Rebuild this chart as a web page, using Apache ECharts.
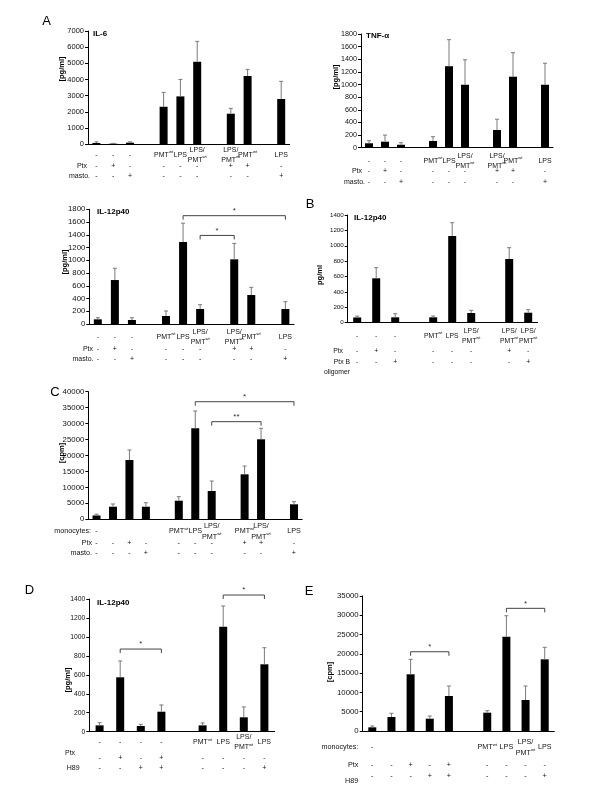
<!DOCTYPE html>
<html><head><meta charset="utf-8">
<script src="https://cdn.jsdelivr.net/npm/echarts@6/dist/echarts.min.js"></script>
<style>html,body{margin:0;padding:0;background:#fff}#c{width:600px;height:800px}</style>
</head><body><div id="c"></div>
<script>
// ---------- Panel A: IL-6 / TNF-alpha / IL-12p40 (same condition rows) ----------
const aLabels = ['-','-','-','','PMTwt','LPS','LPS/PMTwt','','LPS/PMTwt','PMTwt','','LPS'];
const aPtx    = ['-','+','-','','-','-','-','','+','+','','-'];
const aMasto  = ['-','-','+','','-','-','-','','-','-','','+'];

const aIl6Mean = [80, 40, 100, null, 2320, 2960, 5100, null, 1890, 4220, null, 2800];
const aIl6Sd   = [70, 20, 50, null, 890, 1050, 1260, null, 330, 410, null, 1090];

const aTnfMean = [70, 95, 47, null, 106, 1290, 997, null, 280, 1124, null, 997];
const aTnfSd   = [40, 105, 32, null, 68, 420, 395, null, 170, 380, null, 340];

const aIl12Mean = [73, 690, 63, null, 126, 1287, 235, null, 1015, 455, null, 235];
const aIl12Sd   = [25, 185, 35, null, 78, 295, 68, null, 250, 120, null, 115];
const aIl12Brackets = [[5, 11, 1700, '*'], [6, 8, 1390, '*']];

// ---------- Panel B: IL-12p40 ----------
const bLabels = ['-','-','-','','PMTwt','LPS','LPS/PMTwt','','LPS/PMTwt','LPS/PMTwt'];
const bPtx    = ['-','+','-','','-','-','-','','+','-'];
const bPtxB   = ['-','-','+','','-','-','-','','-','+'];
const bMean = [68, 577, 70, null, 70, 1127, 126, null, 828, 130];
const bSd   = [17, 138, 47, null, 17, 173, 35, null, 147, 39];

// ---------- Panel C: proliferation [cpm] ----------
const cMono  = ['-','','','','','PMTwt','LPS','LPS/PMTwt','','PMTwt','LPS/PMTwt','','LPS'];
const cPtx   = ['-','-','+','-','','-','-','-','','+','+','','-'];
const cMasto = ['-','-','-','+','','-','-','-','','-','-','','+'];
const cMean = [1200, 3950, 18590, 3950, null, 5830, 28530, 8870, null, 14100, 25080, null, 4700];
const cSd   = [400, 850, 3130, 1250, null, 1250, 5420, 3130, null, 2600, 3450, null, 820];
const cBrackets = [[6, 12, 36860, '*'], [7, 10, 30600, '**']];

// ---------- Panel D: IL-12p40 with H89 ----------
const dLabels = ['-','-','-','-','','PMTwt','LPS','LPS/PMTwt','LPS'];
const dPtx    = ['-','+','-','+','','-','-','-','-'];
const dH89    = ['-','-','+','+','','-','-','-','+'];
const dMean = [67, 574, 60, 211, null, 67, 1108, 152, 711];
const dSd   = [28, 172, 18, 71, null, 25, 218, 109, 175];
const dBrackets = [[1, 3, 872, '*'], [6, 8, 1442, '*']];

// ---------- Panel E: proliferation with H89 ----------
const eMono = ['-','','','','','','PMTwt','LPS','LPS/PMTwt','LPS'];
const ePtx  = ['-','-','+','-','+','','-','-','-','-'];
const eH89  = ['-','-','-','+','+','','-','-','-','+'];
const eMean = [950, 3630, 14700, 3190, 9070, null, 4750, 24440, 8030, 18580];
const eSd   = [350, 960, 3880, 700, 2590, null, 510, 5440, 3630, 3110];
const eBrackets = [[2, 4, 20550, '*'], [7, 9, 31800, '*']];

const FONT = '"Liberation Sans", Arial, Helvetica, sans-serif';
const TXT = '#111';

const panels = [
  { grid:{left:88, top:31, width:201.6, height:113.3}, rows:[aLabels,aPtx,aMasto], off:[10.7,21.7,31.7],
    mean:aIl6Mean, sd:aIl6Sd, max:7000, interval:1000, fs:7, tfs:7.5, brackets:[],
    title:['IL-6',93,34], yname:['[pg/ml]',62,69], letter:['A',46.5,21.5],
    heads:[['Ptx',87,166,'right'],['masto.',90,176,'right']] },
  { grid:{left:361, top:34, width:192, height:113.7}, rows:[aLabels,aPtx,aMasto], off:[13.3,23.3,34.3],
    mean:aTnfMean, sd:aTnfSd, max:1800, interval:200, fs:7, tfs:7.2, brackets:[],
    title:['TNF-α',366,35.5], yname:['[pg/ml]',335.5,77],
    heads:[['Ptx',362,171,'right'],['masto.',365,182,'right']] },
  { grid:{left:89.3, top:209.3, width:204.6, height:114.7}, rows:[aLabels,aPtx,aMasto], off:[12.7,25.3,35.3],
    mean:aIl12Mean, sd:aIl12Sd, max:1800, interval:200, fs:7, tfs:7.8, brackets:aIl12Brackets,
    title:['IL-12p40',97,211.5], yname:['[pg/ml]',64.5,262],
    heads:[['Ptx',93,349.3,'right'],['masto.',93.5,359.3,'right']] },
  { grid:{left:347.7, top:215, width:190, height:107.7}, rows:[bLabels,bPtx,bPtxB], off:[13.3,28,39],
    mean:bMean, sd:bSd, max:1400, interval:200, fs:6.8, tfs:6.2, brackets:[],
    title:['IL-12p40',354,217.5], yname:['pg/ml',320,275], letter:['B',310,204.5],
    heads:[['Ptx',343,350.7,'right'],['Ptx B',350,361.7,'right'],['oligomer',350,371.7,'right']] },
  { grid:{left:88.3, top:391.7, width:213.9, height:127.6}, rows:[cMono,cPtx,cMasto], off:[12.2,24,34],
    mean:cMean, sd:cSd, max:40000, interval:5000, fs:7.2, tfs:7.8, brackets:cBrackets,
    yname:['[cpm]',62,453], letter:['C',55,392],
    heads:[['monocytes:',91,531.5,'right'],['Ptx',92,543.3,'right'],['masto.',92,553.3,'right']] },
  { grid:{left:89.3, top:599, width:185.4, height:132.7}, rows:[dLabels,dPtx,dH89], off:[10.8,26.6,36.6],
    mean:dMean, sd:dSd, max:1400, interval:200, fs:7, tfs:6.8, brackets:dBrackets,
    title:['IL-12p40',97,603], yname:['[pg/ml]',67.5,680], letter:['D',29.5,590],
    heads:[['Ptx',65,752.7,'left'],['H89',66.7,767.7,'left']] },
  { grid:{left:362.7, top:596, width:191.6, height:135}, rows:[eMono,ePtx,eH89], off:[16.5,34,45],
    mean:eMean, sd:eSd, max:35000, interval:5000, fs:7.2, tfs:7.8, brackets:eBrackets,
    yname:['[cpm]',330,672], letter:['E',309,591.5],
    heads:[['monocytes:',358.3,746.7,'right'],['Ptx',358.3,765,'right'],['H89',358.3,781,'right']] }
];

function fmtLabel(v) {
  if (!v) return '';
  if (v === 'PMTwt') return 'PMT{s|wt}';
  if (v === 'LPS/PMTwt') return 'LPS/\nPMT{s|wt}';
  return v;
}

function errRender(params, api) {
  const x = api.value(0);
  const lo = api.coord([x, api.value(1)]);
  const hi = api.coord([x, api.value(2)]);
  const c = 2;
  const st = {stroke:'#7a7a7a', lineWidth:1};
  return {type:'group', children:[
    {type:'line', shape:{x1:lo[0], y1:lo[1], x2:hi[0], y2:hi[1]}, style:st},
    {type:'line', shape:{x1:hi[0]-c, y1:hi[1], x2:hi[0]+c, y2:hi[1]}, style:st}
  ]};
}

function makeBracketRender(list, fs) {
  return function (params, api) {
    const a = api.coord([api.value(0), api.value(2)]);
    const b = api.coord([api.value(1), api.value(2)]);
    const t = 4;
    return {type:'group', children:[
      {type:'polyline', shape:{points:[[a[0], a[1]+t], [a[0], a[1]], [b[0], b[1]], [b[0], b[1]+t]]},
        style:{stroke:'#444', fill:null, lineWidth:1}},
      {type:'text', x:(a[0]+b[0])/2, y:a[1]-5,
        style:{text:list[params.dataIndex][3], align:'center', verticalAlign:'middle',
               fontSize:fs, fontFamily:FONT, fill:'#333'}}
    ]};
  };
}

const option = {animation:false, backgroundColor:'#fff', grid:[], xAxis:[], yAxis:[], series:[], graphic:[]};

panels.forEach((p, gi) => {
  option.grid.push(Object.assign({containLabel:false}, p.grid));
  const mainX = option.xAxis.length;
  option.xAxis.push({
    type:'category', gridIndex:gi, position:'bottom', offset:0,
    data:p.rows[0].map((_, i) => 'slot' + i),
    axisLine:{show:true, onZero:false, lineStyle:{color:'#000', width:1}},
    axisTick:{show:false}, axisLabel:{show:false}, splitLine:{show:false}
  });
  p.rows.forEach((row, ri) => {
    option.xAxis.push({
      type:'category', gridIndex:gi, position:'bottom', offset:p.off[ri], data:row,
      axisLine:{show:false, onZero:false}, axisTick:{show:false}, splitLine:{show:false},
      axisLabel:{
        interval:0, margin:0, verticalAlign:'middle', fontSize:p.fs, lineHeight:p.fs + 3,
        color:TXT, fontFamily:FONT, formatter:fmtLabel,
        rich:{s:{fontSize:p.fs*0.6, fontFamily:FONT, color:TXT, verticalAlign:'top', lineHeight:p.fs*0.9}}
      }
    });
  });
  option.yAxis.push({
    type:'value', gridIndex:gi, min:0, max:p.max, interval:p.interval,
    axisLine:{show:true, lineStyle:{color:'#000', width:1}},
    axisTick:{show:true, length:3, lineStyle:{color:'#000'}},
    splitLine:{show:false},
    axisLabel:{fontSize:p.tfs, margin:4, color:TXT, fontFamily:FONT, formatter:v => String(v)}
  });
  option.series.push({
    type:'bar', xAxisIndex:mainX, yAxisIndex:gi, data:p.mean, barWidth:8,
    itemStyle:{color:'#000'}, silent:true
  });
  const errData = [];
  p.mean.forEach((m, i) => { if (m != null) errData.push([i, m, m + p.sd[i]]); });
  option.series.push({
    type:'custom', xAxisIndex:mainX, yAxisIndex:gi, data:errData, renderItem:errRender,
    encode:{x:0, y:[1, 2]}, silent:true, z:3
  });
  if (p.brackets.length) {
    option.series.push({
      type:'custom', xAxisIndex:mainX, yAxisIndex:gi,
      data:p.brackets.map(b => [b[0], b[1], b[2]]),
      renderItem:makeBracketRender(p.brackets, 8),
      encode:{x:[0, 1], y:2}, silent:true, clip:false, z:4
    });
  }
  if (p.title) option.graphic.push({type:'text', x:p.title[1], y:p.title[2], silent:true,
    style:{text:p.title[0], fontSize:8, fontWeight:'bold', fontFamily:FONT, fill:'#000', align:'left', verticalAlign:'middle'}});
  if (p.yname) option.graphic.push({type:'text', x:p.yname[1], y:p.yname[2], rotation:Math.PI/2, silent:true,
    style:{text:p.yname[0], fontSize:7.5, fontWeight:'bold', fontFamily:FONT, fill:'#000', align:'center', verticalAlign:'middle'}});
  if (p.letter) option.graphic.push({type:'text', x:p.letter[1], y:p.letter[2], silent:true,
    style:{text:p.letter[0], fontSize:13, fontFamily:FONT, fill:'#000', align:'center', verticalAlign:'middle'}});
  p.heads.forEach(h => option.graphic.push({type:'text', x:h[1], y:h[2], silent:true,
    style:{text:h[0], fontSize:p.fs, fontFamily:FONT, fill:TXT, align:h[3], verticalAlign:'middle'}}));
});

const chart = echarts.init(document.getElementById('c'), null, {renderer:'canvas', width:600, height:800});
chart.setOption(option);
</script></body></html>
